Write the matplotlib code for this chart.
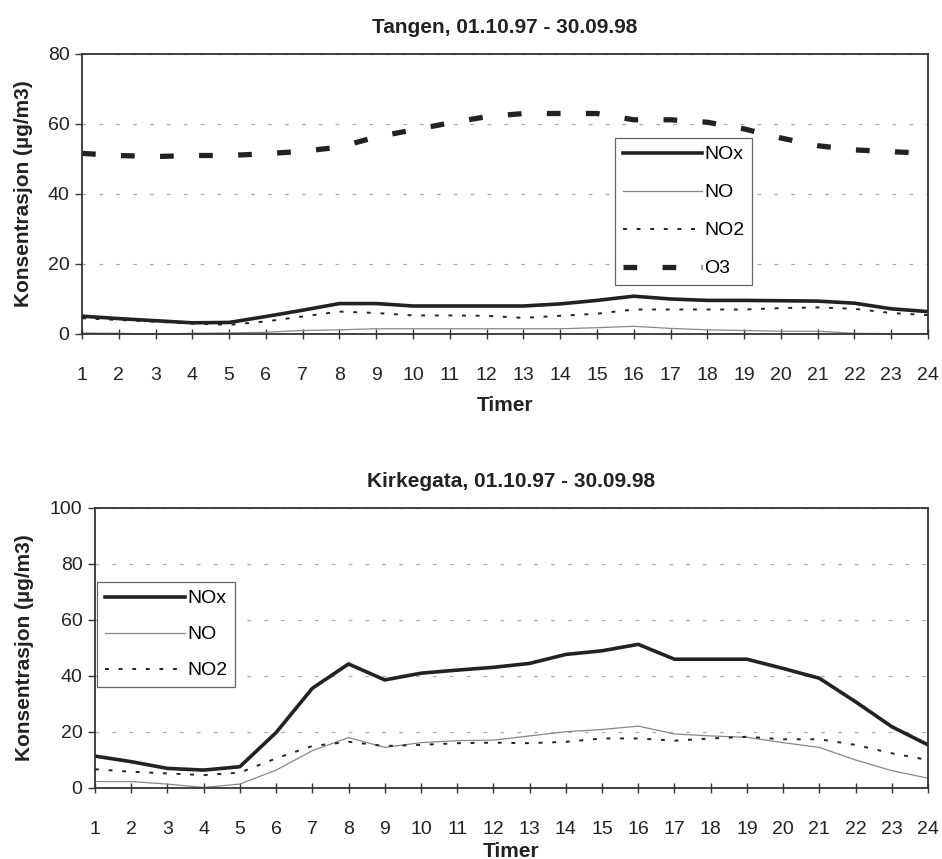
import numpy as np
import matplotlib
matplotlib.use("Agg")
import matplotlib.pyplot as plt

plt.rcParams['font.family'] = ['Liberation Sans', 'DejaVu Sans']

# Hours
timer = list(range(1, 25))

# Tangen, 01.10.97 - 30.09.98
tangen_nox = [5.1, 4.4, 3.8, 3.2, 3.3, 5.0, 6.8, 8.7, 8.7, 8.0, 8.0, 8.0,
              8.0, 8.6, 9.6, 10.8, 10.0, 9.6, 9.6, 9.5, 9.4, 8.8, 7.2, 6.4]
tangen_no = [0.3, 0.2, 0.0, 0.2, 0.3, 0.5, 1.0, 1.2, 1.5, 1.5, 1.5, 1.5,
             1.5, 1.5, 1.8, 2.2, 1.6, 1.2, 1.0, 0.8, 0.8, 0.2, 0.1, 0.1]
tangen_no2 = [4.5, 4.0, 3.5, 3.0, 2.6, 3.6, 5.0, 6.4, 6.0, 5.3, 5.3, 5.2,
              4.6, 5.2, 5.8, 7.0, 7.0, 7.0, 7.0, 7.4, 7.6, 7.2, 6.0, 5.4]
tangen_o3 = [51.6, 51.0, 50.7, 51.0, 51.0, 51.5, 52.2, 53.4, 56.3, 58.3, 60.3, 62.1,
             63.0, 63.0, 63.0, 61.2, 61.2, 60.5, 58.6, 56.0, 53.8, 52.6, 52.1, 51.6]

# Kirkegata, 01.10.97 - 30.09.98
kirke_nox = [11.4, 9.4, 7.0, 6.4, 7.6, 19.8, 35.6, 44.3, 38.6, 41.0, 42.1, 43.1,
             44.5, 47.7, 49.0, 51.3, 46.0, 46.0, 46.0, 42.7, 39.2, 30.8, 21.9, 15.4]
kirke_no = [2.3, 2.3, 1.4, 0.2, 1.4, 6.4, 13.3, 18.0, 14.5, 16.2, 16.9, 17.1,
            18.6, 20.1, 20.9, 22.1, 19.3, 18.6, 18.1, 16.2, 14.5, 10.0, 6.2, 3.5]
kirke_no2 = [6.7, 5.8, 5.2, 4.6, 5.5, 10.6, 15.0, 16.5, 15.0, 15.4, 16.0, 16.2,
             16.0, 16.5, 17.7, 17.7, 16.9, 17.7, 18.3, 17.4, 17.4, 15.4, 12.4, 10.0]

fig = plt.figure(figsize=(9.42, 8.59), dpi=100)
ax1 = fig.add_axes([82/942, 1 - 334/859, 846/942, 280/859])
ax2 = fig.add_axes([95/942, 1 - 788/859, 833/942, 280/859])


def style_axes(ax, ymax, title, xlabelpad):
    ax.set_xlim(1, 24)
    ax.set_ylim(0, ymax)
    ax.set_xticks(timer)
    ax.set_yticks(np.arange(0, ymax + 1, 20))
    ax.yaxis.grid(True, color='#aaaaaa', linewidth=0.9, dashes=(3, 10.5))
    ax.set_axisbelow(True)
    for sp in ax.spines.values():
        sp.set_linewidth(1.3)
        sp.set_color('#333333')
    ax.tick_params(axis='x', direction='inout', length=7, width=1,
                   labelsize=14, pad=20, colors='#333333', labelcolor='#222222')
    ax.tick_params(axis='y', direction='out', length=5, width=1,
                   labelsize=14, pad=4, colors='#333333', labelcolor='#222222')
    ax.set_title(title, fontsize=15, fontweight='bold', pad=15, color='#222222')
    ax.set_xlabel('Timer', fontsize=15, fontweight='bold', labelpad=xlabelpad, color='#222222')
    ax.set_ylabel('Konsentrasjon (µg/m3)', fontsize=15, fontweight='bold', color='#222222')


def add_lines(ax, nox, no, no2, o3=None):
    ax.plot(timer, nox, color='#222222', linewidth=2.6, label='NOx', solid_joinstyle='round')
    ax.plot(timer, no, color='#888888', linewidth=0.9, label='NO')
    ax.plot(timer, no2, color='#222222', linewidth=1.4, dashes=(2, 5), label='NO2')
    if o3 is not None:
        ax.plot(timer, o3, color='#222222', linewidth=3.8, dashes=(2.6, 4.8), label='O3')


style_axes(ax1, 80, 'Tangen, 01.10.97 - 30.09.98', 9)
add_lines(ax1, tangen_nox, tangen_no, tangen_no2, tangen_o3)
ax1.yaxis.set_label_coords(-0.058, 0.5)
leg1 = ax1.legend(loc='upper left', bbox_to_anchor=(0.630, 0.700), fontsize=14,
                  handlelength=4.1, handletextpad=0.1, labelspacing=1.05,
                  borderpad=0.4, borderaxespad=0, fancybox=False, framealpha=1)
leg1.get_frame().set_edgecolor('#666666')
leg1.get_frame().set_linewidth(0.9)

style_axes(ax2, 100, 'Kirkegata, 01.10.97 - 30.09.98', 3)
add_lines(ax2, kirke_nox, kirke_no, kirke_no2)
ax2.yaxis.set_label_coords(-0.073, 0.5)
leg2 = ax2.legend(loc='upper left', bbox_to_anchor=(0.003, 0.736), fontsize=14,
                  handlelength=4.1, handletextpad=0.1, labelspacing=0.95,
                  borderpad=0.4, borderaxespad=0, fancybox=False, framealpha=1)
leg2.get_frame().set_edgecolor('#666666')
leg2.get_frame().set_linewidth(0.9)

fig.savefig('out.png', dpi=100, facecolor='white')
